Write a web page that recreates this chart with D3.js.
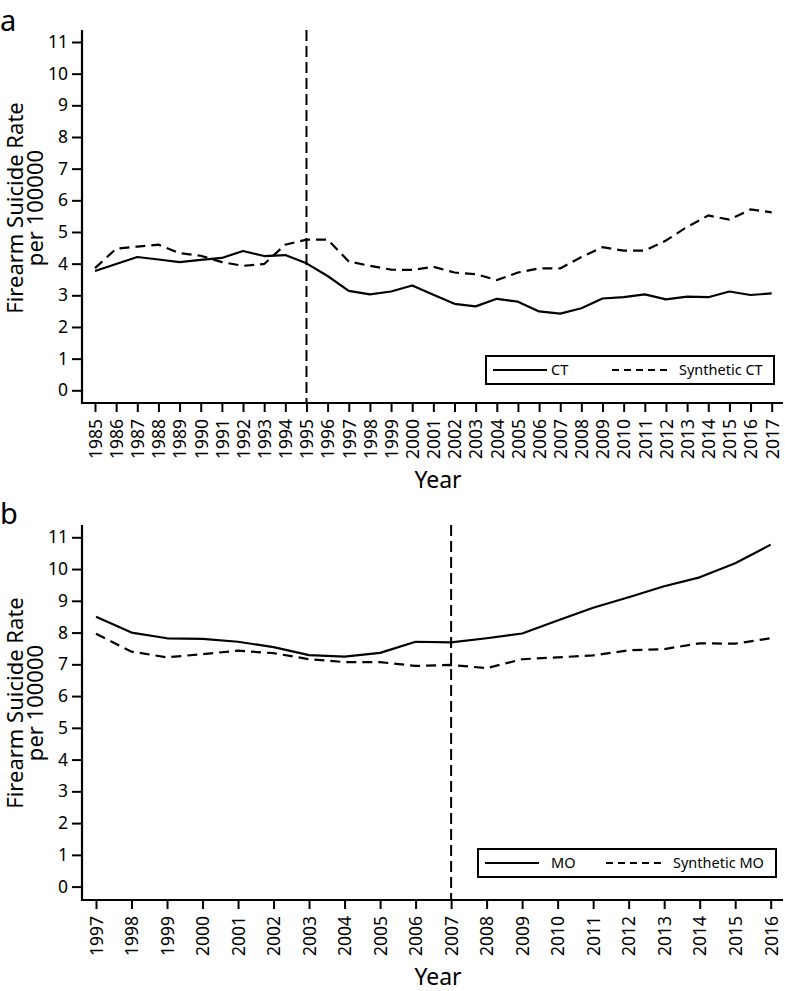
<!DOCTYPE html>
<html><head><meta charset="utf-8">
<script src="https://cdn.jsdelivr.net/npm/d3@7"></script>
<style>
body{margin:0;background:#fff;}
svg{display:block;font-family:"Noto Sans",sans-serif;}
</style></head>
<body><svg id="c" width="785" height="991"></svg>
<script>
// Panel a: Connecticut
const yearsA = d3.range(1985, 2018);
const ctActual = [3.77,3.99,4.21,4.13,4.05,4.12,4.18,4.40,4.24,4.27,4.01,3.61,3.14,3.03,3.12,3.31,3.02,2.73,2.65,2.89,2.80,2.49,2.42,2.59,2.90,2.94,3.03,2.87,2.96,2.94,3.12,3.01,3.06];
const ctSynthetic = [3.86,4.47,4.54,4.60,4.33,4.25,4.05,3.93,3.99,4.60,4.76,4.76,4.07,3.93,3.81,3.80,3.90,3.72,3.67,3.48,3.72,3.85,3.85,4.21,4.52,4.41,4.41,4.73,5.16,5.52,5.39,5.71,5.62];
// Panel b: Missouri
const yearsB = d3.range(1997, 2017);
const moActual = [8.50,8.00,7.82,7.80,7.71,7.54,7.29,7.24,7.36,7.71,7.69,7.82,7.97,8.38,8.78,9.11,9.46,9.74,10.18,10.77];
const moSynthetic = [7.96,7.40,7.22,7.32,7.43,7.35,7.16,7.07,7.07,6.95,6.98,6.88,7.16,7.22,7.28,7.44,7.48,7.66,7.65,7.82];
const yTicks = d3.range(0, 12);
const yTitle = ["Firearm Suicide Rate", "per 100000"];

const svg = d3.select("#c");

function panel(o){
  const g = svg.append("g");
  const x = d3.scaleLinear().domain([o.years[0], o.years[o.years.length-1]]).range([o.x0, o.x1]);
  const y = d3.scaleLinear().domain([0, 11]).range([o.y0, o.y11]);
  const axL = 82, axR = 783;
  // y axis
  const ya = g.append("g").attr("transform", `translate(${axL},0)`)
    .call(d3.axisLeft(y).tickValues(yTicks).tickSize(10).tickPadding(4).tickSizeOuter(0));
  ya.select(".domain").remove();
  ya.selectAll("line").attr("stroke", "#000").attr("stroke-width", 2);
  ya.selectAll("text").attr("font-size", 17.5).attr("fill", "#000").attr("font-family", "Noto Sans");
  // x axis
  const xa = g.append("g").attr("transform", `translate(0,${o.axisY})`)
    .call(d3.axisBottom(x).tickValues(o.years).tickFormat(d3.format("d")).tickSize(9).tickSizeOuter(0));
  xa.select(".domain").remove();
  xa.selectAll("line").attr("stroke", "#000").attr("stroke-width", 2);
  xa.selectAll("text").attr("font-size", 17.5).attr("fill", "#000").attr("font-family", "Noto Sans")
    .attr("text-anchor", "end").attr("transform", "rotate(-90)")
    .attr("x", -16).attr("y", 0).attr("dy", "0.36em");
  // axis lines
  g.append("line").attr("x1", axL).attr("x2", axL).attr("y1", o.axisTop).attr("y2", o.axisY + 1)
    .attr("stroke", "#000").attr("stroke-width", 2.2);
  g.append("line").attr("x1", axL - 1).attr("x2", axR).attr("y1", o.axisY).attr("y2", o.axisY)
    .attr("stroke", "#000").attr("stroke-width", 2.2);
  // vertical intervention line
  g.append("line").attr("x1", x(o.vline)).attr("x2", x(o.vline)).attr("y1", o.axisTop).attr("y2", o.axisY)
    .attr("stroke", "#000").attr("stroke-width", 2).attr("stroke-dasharray", "11,5");
  // data lines
  const line = d3.line().x((d, i) => x(o.years[i])).y(d => y(d));
  g.append("path").datum(o.actual).attr("d", line).attr("fill", "none")
    .attr("stroke", "#000").attr("stroke-width", 2.2).attr("stroke-linejoin", "round");
  g.append("path").datum(o.synth).attr("d", line).attr("fill", "none")
    .attr("stroke", "#000").attr("stroke-width", 2.2).attr("stroke-dasharray", "10,6");
  // y title
  const yt = g.append("text").attr("transform", `translate(23,${o.titleCY}) rotate(-90)`)
    .attr("text-anchor", "middle").attr("font-size", 22).attr("fill", "#000");
  yt.append("tspan").attr("x", 0).attr("y", 0).text(yTitle[0]);
  yt.append("tspan").attr("x", 0).attr("y", 20).text(yTitle[1]);
  // x title
  g.append("text").attr("x", 438).attr("y", o.yearY).attr("text-anchor", "middle")
    .attr("font-size", 23).attr("fill", "#000").text("Year");
  // panel letter
  g.append("text").attr("x", 0).attr("y", o.letterY).attr("font-size", 29).attr("fill", "#000").text(o.letter);
  // legend
  const L = o.legend;
  g.append("rect").attr("x", L.x).attr("y", L.y).attr("width", L.w).attr("height", L.h)
    .attr("fill", "#fff").attr("stroke", "#000").attr("stroke-width", 2);
  const ly = L.y + L.h / 2;
  g.append("line").attr("x1", L.s1).attr("x2", L.s1 + 54).attr("y1", ly).attr("y2", ly)
    .attr("stroke", "#000").attr("stroke-width", 2);
  g.append("text").attr("x", L.t1).attr("y", ly).attr("dy", "0.35em").attr("font-size", 14.5).attr("fill", "#000").text(L.n1);
  g.append("line").attr("x1", L.s2).attr("x2", L.s2 + 56).attr("y1", ly).attr("y2", ly)
    .attr("stroke", "#000").attr("stroke-width", 2).attr("stroke-dasharray", "7,5");
  g.append("text").attr("x", L.t2).attr("y", ly).attr("dy", "0.35em").attr("font-size", 14.5).attr("fill", "#000").text(L.n2);
}

panel({years: yearsA, actual: ctActual, synth: ctSynthetic, x0: 95, x1: 771.7,
  y0: 390.3, y11: 42, axisY: 403, axisTop: 30, vline: 1995, titleCY: 208, yearY: 488, letter: "a", letterY: 31,
  legend: {x: 486, y: 356, w: 288, h: 28, s1: 493, t1: 551, n1: "CT", s2: 612, t2: 679, n2: "Synthetic CT"}});
panel({years: yearsB, actual: moActual, synth: moSynthetic, x0: 96, x1: 770.7,
  y0: 886.6, y11: 537.3, axisY: 900, axisTop: 525, vline: 2007, titleCY: 703, yearY: 985, letter: "b", letterY: 524,
  legend: {x: 478, y: 849, w: 298, h: 28, s1: 485, t1: 551, n1: "MO", s2: 606, t2: 673, n2: "Synthetic MO"}});
</script></body></html>
